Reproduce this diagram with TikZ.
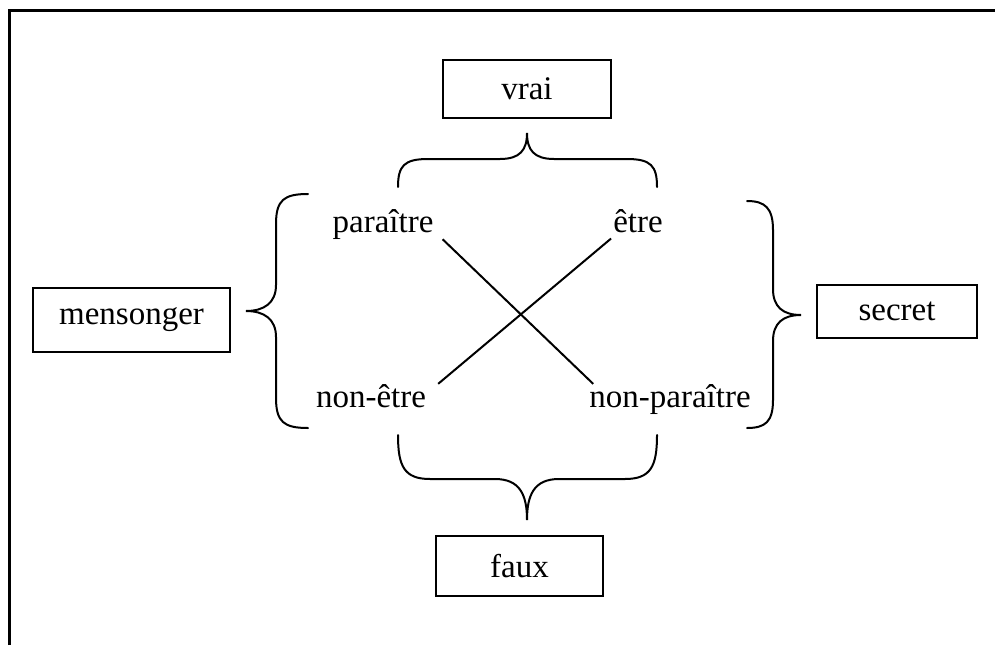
\documentclass[tikz,border=0pt]{standalone}
\usepackage{fontspec}
\setmainfont{Liberation Serif}
\usetikzlibrary{%
  calc,
}

\begin{document}
\begin{tikzpicture}[%
           x=1pt, y=-1pt,
           term/.style={
             % the four words of the square
             font=\fontsize{33}{39}\selectfont,
             inner sep=0pt,
             anchor=base,
           },
           value/.style={
             % the boxed outcomes
             rectangle,
             draw,
             line width=2pt,
             font=\fontsize{33}{39}\selectfont,
           },
           brace/.style={
             line width=2pt,
             line cap=round,
           },
           cross/.style={
             line width=2pt,
           }]
         \useasboundingbox (0,0) rectangle (995,645);

         % frame
         \draw[line width=3pt] (9,645) -- (9,10) -- (995,10);

         \node[term] (par)    at (383,232) {paraître};
         \node[term] (etre)   at (638,232) {être};
         \node[term] (nonetr) at (371,407) {non-être};
         \node[term] (nonpar) at (670,407) {non-paraître};

         \node[value, minimum width=168pt, minimum height=58pt] (vrai)  at (527,89)    {vrai};
         \node[value, minimum width=197pt, minimum height=64pt] (mens)  at (131.5,320) {mensonger};
         \node[value, minimum width=160pt, minimum height=53pt] (secr)  at (897,311.5) {secret};
         \node[value, minimum width=167pt, minimum height=60pt] (faux)  at (519.5,566) {faux};

         \draw[cross] ($ (par.south east) + (9,0) $) -- ($ (nonpar.north west) + (4,0) $);
         \draw[cross] ($ (etre.south west) + (-2,6) $) -- ($ (nonetr.north east) + (12,0) $);

         % braces
         \draw[brace] (398,187) .. controls (398,166) and (404,159) .. (428,159)
           -- (500,159) .. controls (520,159) and (527,150) .. (527,133)
           .. controls (527,150) and (534,159) .. (554,159)
           -- (627,159) .. controls (651,159) and (657,166) .. (657,187);
         \draw[brace] (398,435) .. controls (398,466) and (404,479) .. (430,479)
           -- (495,479) .. controls (520,479) and (527,495) .. (527,520)
           .. controls (527,495) and (534,479) .. (559,479)
           -- (625,479) .. controls (651,479) and (657,466) .. (657,435);
         \draw[brace] (308,194) .. controls (284,194) and (276,200) .. (276,224)
           -- (276,285) .. controls (276,303) and (264,311) .. (246,311)
           .. controls (264,311) and (276,319) .. (276,337)
           -- (276,398) .. controls (276,422) and (284,428) .. (308,428);
         \draw[brace] (747,201) .. controls (765,201) and (773,208) .. (773,230)
           -- (773,289) .. controls (773,307) and (783,315) .. (801,315)
           .. controls (783,315) and (773,323) .. (773,341)
           -- (773,400) .. controls (773,422) and (765,428) .. (747,428);
     \end{tikzpicture}
\end{document}
